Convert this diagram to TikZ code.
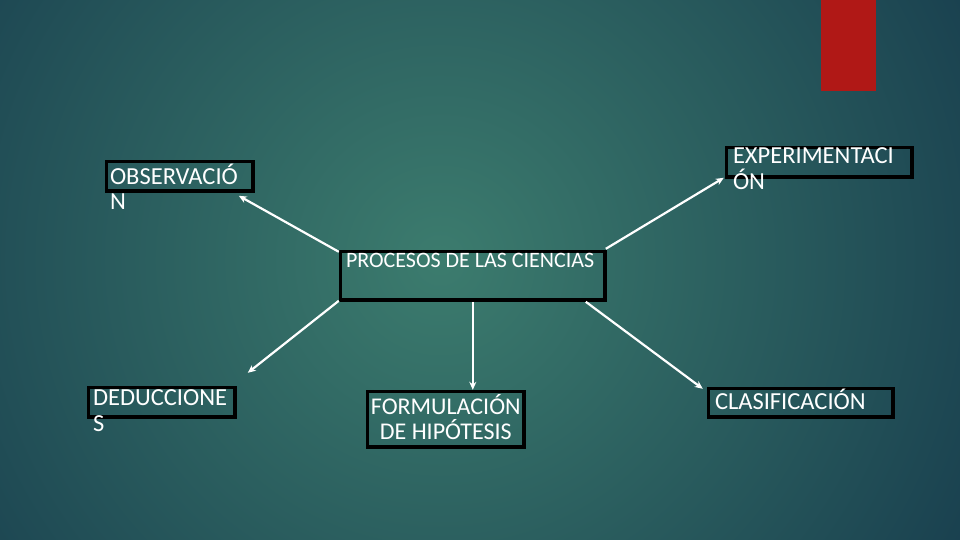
\documentclass[tikz,border=0pt]{standalone}
\usepackage{fontspec}
\setmainfont{Carlito}
\usetikzlibrary{arrows.meta}
\definecolor{bginner}{RGB}{60,124,110}
\definecolor{bgouter}{RGB}{24,62,78}
\definecolor{redbar}{RGB}{176,24,22}
\tikzset{
  box/.style={draw=black, line width=3.6pt, inner sep=0pt, rectangle, anchor=north west},
  boxtext/.style={text=white, font=\fontsize{24.5}{25.5}\selectfont, inner sep=0pt, align=left},
  conn/.style={draw=white, line width=2.2pt, -{Stealth[length=8pt,width=7pt]}}
}
\begin{document}
\begin{tikzpicture}[x=1pt,y=-1pt]
\useasboundingbox (0,0) rectangle (960,540);
\begin{scope}
\clip (0,0) rectangle (960,540);
\fill[bgouter] (0,0) rectangle (960,540);
\shade[inner color=bginner, outer color=bgouter] (440,260) circle[radius=620];
\end{scope}
\fill[redbar] (821,0) rectangle (876,91);

% boxes
\node[box, minimum width=146.4pt, minimum height=29.4pt] (obs) at (104.8,159.8) {};
\node[box, minimum width=185.4pt, minimum height=29.4pt] (exp) at (724.8,145.8) {};
\node[box, minimum width=264.4pt, minimum height=48.4pt] (proc) at (338.8,249.8) {};
\node[box, minimum width=146.4pt, minimum height=29.4pt] (ded) at (86.8,385.8) {};
\node[box, minimum width=156.4pt, minimum height=55.4pt] (form) at (365.8,389.8) {};
\node[box, minimum width=184.4pt, minimum height=28.4pt] (cla) at (706.8,386.8) {};

% texts
\node[boxtext, anchor=north west] (obst) at ([shift={(5,4)}]obs.north west) {OBSERVACIÓ\\N};
\node[boxtext, anchor=north west] (expt) at ([shift={(8,2)}]exp.north west) {EXPERIMENTACI\\ÓN};
\node[boxtext, anchor=north west, font=\fontsize{22}{24}\selectfont] (proct) at ([shift={(7,3)}]proc.north west) {PROCESOS DE LAS CIENCIAS};
\node[boxtext, anchor=north west] (dedt) at ([shift={(6,4)}]ded.north west) {DEDUCCIONE\\S};
\node[boxtext, anchor=north, align=center, font=\fontsize{24}{25}\selectfont] (formt) at ([shift={(0,4)}]form.north) {FORMULACIÓN\\DE HIPÓTESIS};
\node[boxtext, anchor=north west] (clat) at ([shift={(8,2)}]cla.north west) {CLASIFICACIÓN};

% connectors
\draw[conn] ([shift={(0,2)}]proc.north west) -- ([shift={(-16,3)}]obs.south east);
\draw[conn] ([shift={(-1,-1)}]proc.north east) -- ([shift={(-1,-1)}]exp.south west);
\draw[conn] ([shift={(0,-1)}]proc.south west) -- ([shift={(161,-46)}]ded.south west);
\draw[conn] (proc.south) -- (proc.south |- form.north);
\draw[conn] ([shift={(-21,0)}]proc.south east) -- ([shift={(-4,2)}]cla.north west);
\end{tikzpicture}
\end{document}
